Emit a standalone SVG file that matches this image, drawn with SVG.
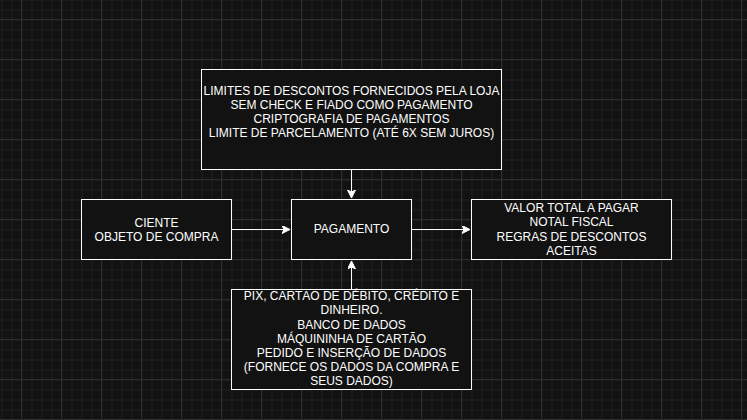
<svg xmlns="http://www.w3.org/2000/svg" width="747" height="420" viewBox="0 0 747 420">
<style>
.box{fill:#121212;stroke:#ffffff;stroke-width:1}
.t{font-family:"Liberation Sans",Arial,sans-serif;font-size:12px;fill:#ffffff;text-anchor:middle}
.c{stroke:#ffffff;stroke-width:1;fill:none}
</style>
<defs>
<pattern id="minor" width="10" height="10" patternUnits="userSpaceOnUse" x="1.5" y="-0.5">
<path d="M0 0.5H10M0.5 0V10" stroke="#1f1f1f" stroke-width="1" fill="none"/>
</pattern>
<pattern id="major" width="40" height="40" patternUnits="userSpaceOnUse" x="21" y="19">
<path d="M0 0.5H40M0.5 0V40" stroke="#2e2e2e" stroke-width="1" fill="none"/>
</pattern>
<marker id="arr" markerWidth="10" markerHeight="10" refX="8" refY="4" orient="auto" markerUnits="userSpaceOnUse">
<path d="M0 0L8 4L0 8L2 4Z" fill="#ffffff" stroke="#ffffff" stroke-width="1" stroke-linejoin="miter"/>
</marker>
</defs>
<rect width="747" height="420" fill="#121212"/>
<rect width="747" height="420" fill="url(#minor)"/>
<rect width="747" height="420" fill="url(#major)"/>
<g id="connectors">
<path class="c" d="M351.5 169.5V198" marker-end="url(#arr)"/>
<path class="c" d="M231.5 229.5H290" marker-end="url(#arr)"/>
<path class="c" d="M411.5 229.5H470" marker-end="url(#arr)"/>
<path class="c" d="M351.5 289.5V261" marker-end="url(#arr)"/>
</g>
<g id="restricoes">
<rect class="box" x="201.5" y="69.5" width="300" height="100"/>
<text class="t" x="351.5" y="95">LIMITES DE DESCONTOS FORNECIDOS PELA LOJA</text>
<text class="t" x="351.5" y="109">SEM CHECK E FIADO COMO PAGAMENTO</text>
<text class="t" x="351.5" y="123">CRIPTOGRAFIA DE PAGAMENTOS</text>
<text class="t" x="351.5" y="137">LIMITE DE PARCELAMENTO (ATÉ 6X SEM JUROS)</text>
</g>
<g id="entradas">
<rect class="box" x="81.5" y="199.5" width="150" height="60"/>
<text class="t" x="156.5" y="226.5">CIENTE</text>
<text class="t" x="156.5" y="240.5">OBJETO DE COMPRA</text>
</g>
<g id="pagamento">
<rect class="box" x="291.5" y="199.5" width="120" height="60"/>
<text class="t" x="351.5" y="233">PAGAMENTO</text>
</g>
<g id="saidas">
<rect class="box" x="471.5" y="199.5" width="200" height="60"/>
<text class="t" x="571.5" y="211.7">VALOR TOTAL A PAGAR</text>
<text class="t" x="571.5" y="226">NOTAL FISCAL</text>
<text class="t" x="571.5" y="240.5">REGRAS DE DESCONTOS</text>
<text class="t" x="571.5" y="255">ACEITAS</text>
</g>
<g id="mecanismos">
<rect class="box" x="231.5" y="289.5" width="240" height="100"/>
<text class="t" x="351.5" y="300.2">PIX, CARTÃO DE DÉBITO, CRÉDITO E</text>
<text class="t" x="351.5" y="314.4">DINHEIRO.</text>
<text class="t" x="351.5" y="328.6">BANCO DE DADOS</text>
<text class="t" x="351.5" y="342.8">MÁQUININHA DE CARTÃO</text>
<text class="t" x="351.5" y="357">PEDIDO E INSERÇÃO DE DADOS</text>
<text class="t" x="351.5" y="371.2">(FORNECE OS DADOS DA COMPRA E</text>
<text class="t" x="351.5" y="385.4">SEUS DADOS)</text>
</g>
</svg>
